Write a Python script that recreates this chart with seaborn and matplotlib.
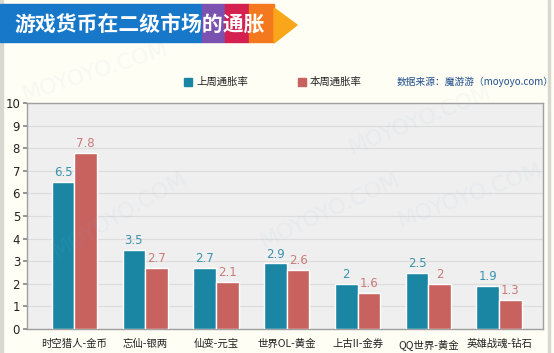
import matplotlib.pyplot as plt
import seaborn as sns
import numpy as np
import pandas as pd
from matplotlib.patches import Rectangle, Polygon

# data
games = ['时空猎人-金币', '忘仙-银两', '仙变-元宝', '世界OL-黄金', '上古II-金券', 'QQ世界-黄金', '英雄战魂-钻石']
last_week = [6.5, 3.5, 2.7, 2.9, 2, 2.5, 1.9]
this_week = [7.8, 2.7, 2.1, 2.6, 1.6, 2, 1.3]
series_names = ['上周通胀率', '本周通胀率']
y_ticks = list(range(0, 11))

blue = '#1a86a3'
red = '#c7625f'
blue_txt = '#3a93ad'
red_txt = '#c97b78'

df = pd.DataFrame({
    'game': games * 2,
    'rate': last_week + this_week,
    'series': [series_names[0]] * len(games) + [series_names[1]] * len(games),
})

sns.set_theme(style='white')
plt.rcParams['font.family'] = ['Noto Sans CJK SC', 'DejaVu Sans']

fig = plt.figure(figsize=(5.54, 3.53), dpi=100)
fig.patch.set_facecolor('#fffef4')

W, H = 554, 353
def px(x, y):
    return (x / W, 1 - y / H)

# faint watermarks in the background
for (wx, wy, rot) in [(95, 72, 18), (120, 215, 30), (420, 120, 22), (330, 210, 25), (470, 195, 20)]:
    fig.text(wx / W, 1 - wy / H, 'MOYOYO.COM', fontsize=16, color='#7fb8dc', alpha=0.07,
             rotation=rot, ha='center', va='center', family='DejaVu Sans', zorder=0)

ax = fig.add_axes([27 / 554, 1 - 329 / 353, (543 - 27) / 554, (329 - 103) / 353])
ax.set_facecolor('#efefef')
ax.patch.set_alpha(0.95)

sns.barplot(data=df, x='game', y='rate', hue='series', palette=[blue, red],
            width=0.64, saturation=1, ax=ax, legend=False, zorder=3)

# value labels above each bar
for cont, col in zip(ax.containers, [blue_txt, red_txt]):
    ax.bar_label(cont, labels=[f'{v:g}' for v in cont.datavalues], padding=2,
                 color=col, fontsize=8.5, family='DejaVu Sans')

ax.set_xlim(-0.67, 6.62)
ax.set_ylim(0, 10)
ax.set_yticks(y_ticks)
ax.yaxis.grid(True, color='#dcdcdc', linewidth=0.8, zorder=0)
ax.set_axisbelow(True)
ax.set_xlabel('')
ax.set_ylabel('')
ax.tick_params(axis='y', labelsize=8.5, left=True, length=3, color='#888888', pad=2,
               labelcolor='#222222')
ax.tick_params(axis='x', labelsize=7.5, bottom=False, pad=1, labelcolor='#222222')
for lab in ax.get_yticklabels():
    lab.set_family('DejaVu Sans')
for s in ax.spines.values():
    s.set_color('#a0a0a0')
    s.set_linewidth(1)

# title banner
banner = [
    (0, 4, 202, '#1777c9'),
    (202, 4, 225, '#7b52b0'),
    (225, 4, 249, '#d4214f'),
    (249, 4, 274, '#f4781e'),
]
for x0, y0, x1, c in banner:
    fig.patches.append(Rectangle(px(x0, 42), (x1 - x0) / W, 38 / H,
                                 transform=fig.transFigure, color=c, zorder=1))
fig.patches.append(Polygon([px(274, 8), px(297, 25), px(274, 43)], closed=True,
                           transform=fig.transFigure, color='#f9a61a', zorder=1))
fig.text(14 / W, 1 - 24 / H, '游戏货币在二级市场的通胀', color='white', fontsize=15,
         fontweight='bold', va='center', ha='left')

# legend row
ly = 1 - 82 / H
for x0, c, name in [(184, blue, series_names[0]), (298, red, series_names[1])]:
    fig.patches.append(Rectangle(px(x0, 86), 8 / W, 8 / H, transform=fig.transFigure,
                                 color=c, zorder=2))
    fig.text((x0 + 12) / W, ly, name, fontsize=7.5, color='#222222', va='center')
fig.text(397 / W, ly, '数据来源：魔游游（moyoyo.com）', fontsize=7, color='#1f4f8f',
         va='center')

# faint side frame
fig.patches.append(Rectangle((0, 0), 3 / W, 1, transform=fig.transFigure,
                             color='#d8d8d0', zorder=0))
fig.patches.append(Rectangle(px(548, 353), 2 / W, 1, transform=fig.transFigure,
                             color='#d8d8d0', zorder=0))

plt.savefig('out.png', dpi=100, facecolor=fig.get_facecolor())
plt.close()
